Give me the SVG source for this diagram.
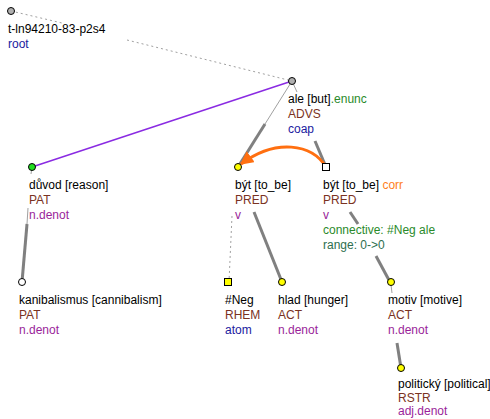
<svg xmlns="http://www.w3.org/2000/svg" width="490" height="419" viewBox="0 0 490 419">
<style>
text{font-family:"Liberation Sans",Arial,sans-serif;font-size:12px;fill:#000}
.f{fill:#7a3222}.b{fill:#2020a0}.p{fill:#9a1f9a}.g{fill:#2a8a2a}.t{fill:#2e6e4e}.o{fill:#ff7f1a}
.thin{stroke:#a0a0a0;stroke-width:1;fill:none}
.thick{stroke:#808080;stroke-width:3;fill:none}
.dot{stroke:#a0a0a0;stroke-width:1;stroke-dasharray:2,3;fill:none}
.nd{stroke:#000;stroke-width:1}
</style>
<defs>
<marker id="ah" viewBox="0 0 10 10" refX="9" refY="5" markerWidth="4.5" markerHeight="4.5" orient="auto"><path d="M0,0L10,5L0,10z" fill="#ff6f10"/></marker>
</defs>
<g id="edges">
<path class="dot" d="M11,11L62,23M127,40L292,81"/>
<path d="M292,81L32,167" stroke="#8a2be2" stroke-width="1.5" fill="none"/>
<path class="thin" d="M292,81L265,124"/><path class="thick" d="M265,124L238,167"/>
<path class="thin" d="M292,81L297,92"/><path class="thick" d="M315,141L326,167"/>
<path class="thin" d="M32,167L31,174"/><path class="thin" d="M28,208L27,224"/><path class="thick" d="M27,224L22,282"/>
<path class="dot" d="M232,216L229,282"/>
<path class="thick" d="M254,212L282,282"/>
<path class="thick" d="M350,212L358,224"/><path class="thick" d="M376,256L390,282"/>
<path class="thin" d="M391,285L392,293"/><path class="thick" d="M397,343L401,368"/>
<path d="M326,167C312,144 276,138 241,164" stroke="#ff6f10" stroke-width="3" fill="none" marker-end="url(#ah)"/>
</g>
<g id="root"><circle cx="11" cy="11" r="3.5" fill="#b0b0b0" class="nd"/><text x="8" y="33">t-ln94210-83-p2s4</text><text x="8" y="48" class="b">root</text></g>
<g id="ale"><circle cx="292" cy="81" r="3.5" fill="#b0b0b0" class="nd"/><text x="288" y="103">ale [but]<tspan class="g">.enunc</tspan></text><text x="288" y="118" class="f">ADVS</text><text x="288" y="133" class="b">coap</text></g>
<g id="duvod"><circle cx="32" cy="167" r="3.5" fill="#22dd22" class="nd"/><text x="29" y="189">důvod [reason]</text><text x="29" y="204" class="f">PAT</text><text x="29" y="219" class="p">n.denot</text></g>
<g id="byt1"><circle cx="238" cy="167" r="3.5" fill="#ffff00" class="nd"/><text x="235" y="189">být [to_be]</text><text x="235" y="204" class="f">PRED</text><text x="235" y="219" class="p">v</text></g>
<g id="byt2"><rect x="322.5" y="163.5" width="7" height="7" fill="#fff" class="nd"/><text x="323" y="189">být [to_be] <tspan class="o">corr</tspan></text><text x="323" y="204" class="f">PRED</text><text x="323" y="219" class="p">v</text><text x="323" y="234" class="g">connective: #Neg ale</text><text x="323" y="249" class="t">range: 0-&gt;0</text></g>
<g id="kanibalismus"><circle cx="22" cy="282" r="3.5" fill="#fff" class="nd"/><text x="19" y="304">kanibalismus [cannibalism]</text><text x="19" y="319" class="f">PAT</text><text x="19" y="334" class="p">n.denot</text></g>
<g id="neg"><rect x="224.5" y="278.5" width="7" height="7" fill="#ffff00" class="nd"/><text x="225" y="304">#Neg</text><text x="225" y="319" class="f">RHEM</text><text x="225" y="334" class="b">atom</text></g>
<g id="hlad"><circle cx="282" cy="282" r="3.5" fill="#ffff00" class="nd"/><text x="278" y="304">hlad [hunger]</text><text x="278" y="319" class="f">ACT</text><text x="278" y="334" class="p">n.denot</text></g>
<g id="motiv"><circle cx="391" cy="282" r="3.5" fill="#ffff00" class="nd"/><text x="388" y="304">motiv [motive]</text><text x="388" y="319" class="f">ACT</text><text x="388" y="334" class="p">n.denot</text></g>
<g id="politicky"><circle cx="401" cy="368" r="3.5" fill="#ffff00" class="nd"/><text x="398" y="388">politický [political]</text><text x="398" y="402" class="f">RSTR</text><text x="398" y="415" class="p">adj.denot</text></g>
</svg>
